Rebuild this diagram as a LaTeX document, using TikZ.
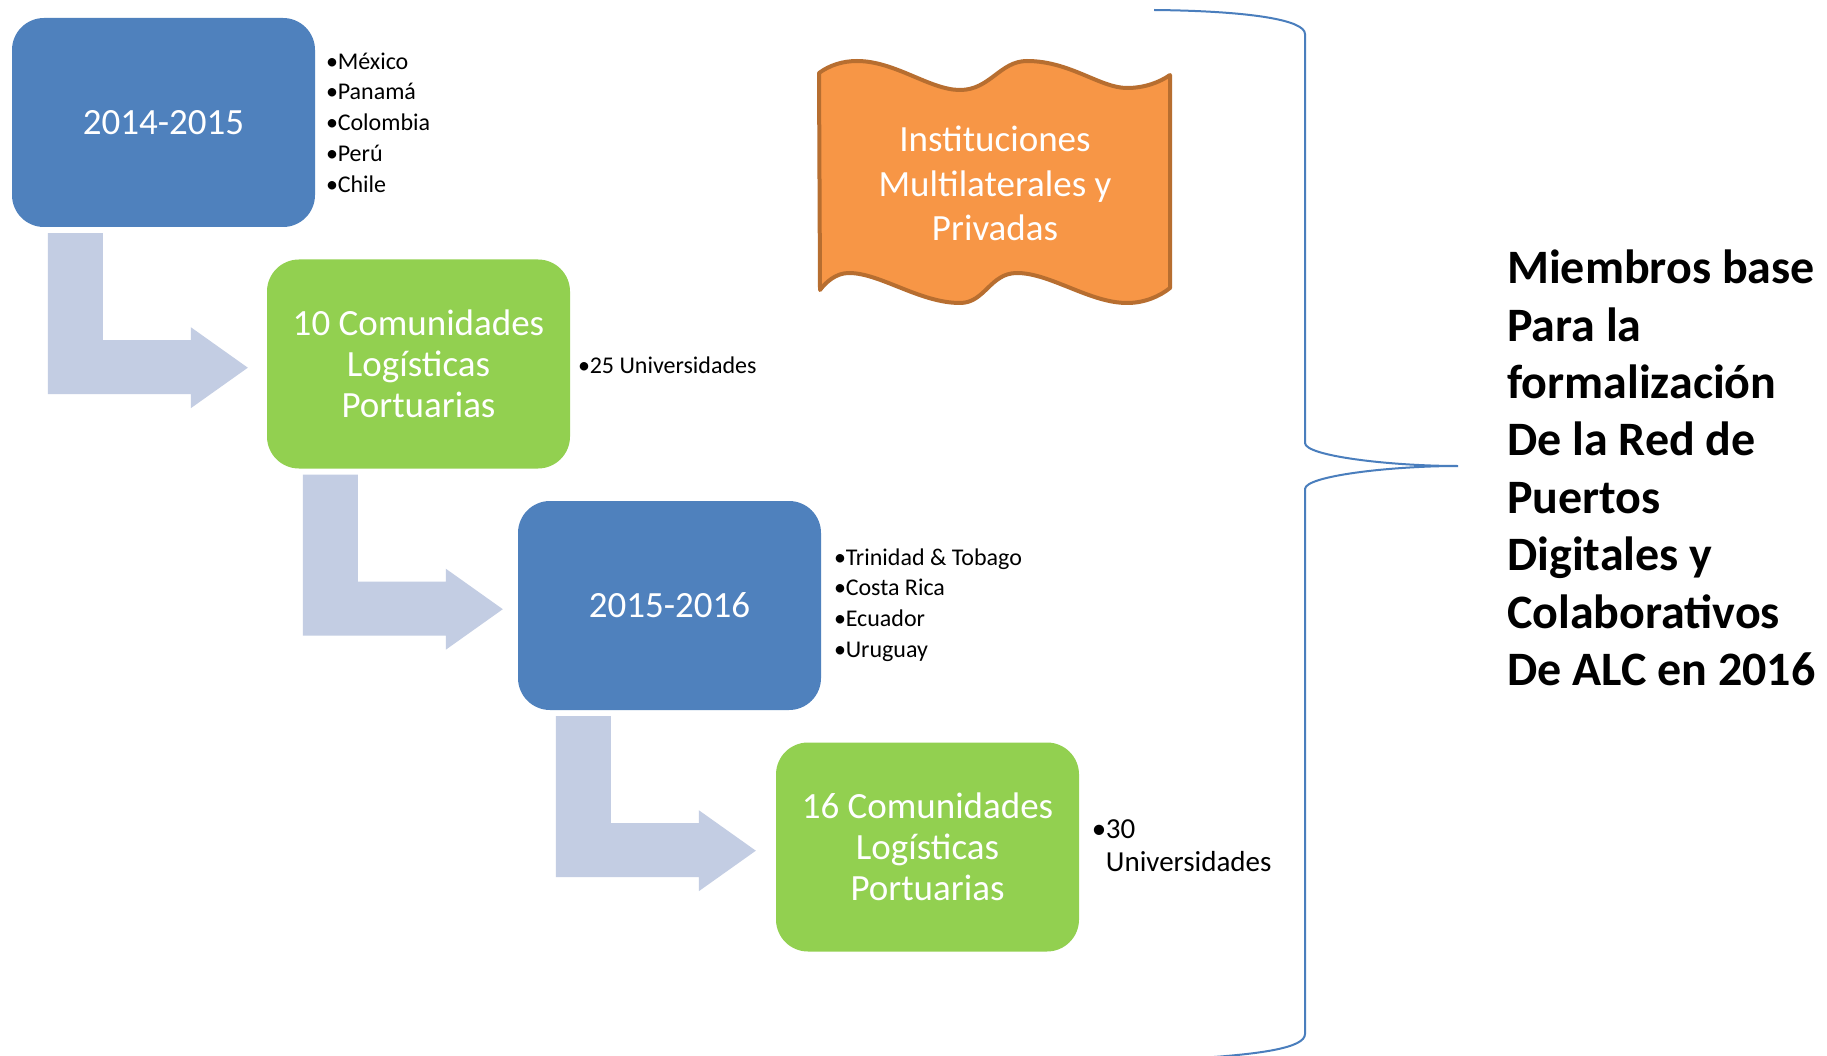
\documentclass[tikz,border=0pt]{standalone}
\usepackage{fontspec}
\setmainfont{Carlito}
\usetikzlibrary{calc}
\definecolor{boxblue}{HTML}{4F81BD}
\definecolor{boxgreen}{HTML}{92D050}
\definecolor{arrowgray}{HTML}{C3CDE3}
\definecolor{wavefill}{HTML}{F79646}
\definecolor{waveline}{HTML}{B76E30}
\definecolor{bracecol}{HTML}{4A7EBD}
\newcommand\bul{\makebox[0.44em][l]{\hspace*{-0.05em}•}}
\newcommand\bentarr[2][0]{%
  \begin{scope}[shift={(#2.south west)}, xshift=#1]
    \fill[bentarrow] (36,6) -- (91,6) -- (91,113) -- (179,113) -- (179,100)
      -- (236,140.5) -- (179,181) -- (179,167) -- (36,167) -- cycle;
  \end{scope}}
\begin{document}
\begin{tikzpicture}[x=1pt,y=-1pt,
  stagebox/.style={rounded corners=32pt, minimum width=303pt, minimum height=209pt,
    inner sep=0pt, text=white, align=center, font=\fontsize{37}{41}\selectfont},
  bluebox/.style={stagebox, fill=boxblue},
  greenbox/.style={stagebox, fill=boxgreen},
  bullets/.style={anchor=west, inner sep=0pt, align=left, font=\fontsize{24}{30.75}\selectfont},
  bentarrow/.style={fill=arrowgray},
  bracestyle/.style={draw=bracecol, line width=2pt},
  wavestyle/.style={fill=wavefill, draw=waveline, line width=4pt, line join=round},
  goaltext/.style={anchor=west, inner sep=0pt, align=left, font=\fontsize{48}{57.4}\selectfont\bfseries}]
\useasboundingbox (0,0) rectangle (1827,1056);
\fill[white] (0,0) rectangle (1827,1056);

% stage boxes
\node[bluebox]  (b1) at (163.5,122.5) {2014-2015};
\node[greenbox] (b2) at (418.5,364) {10 Comunidades\\Logísticas\\Portuarias};
\node[bluebox]  (b3) at (669.5,605.5) {2015-2016};
\node[greenbox] (b4) at (927.5,847) {16 Comunidades\\Logísticas\\Portuarias};

% bent arrows
\bentarr{b1}
\bentarr{b2}
\bentarr[2pt]{b3}

% bullet lists
\node[bullets] (l1) at (327,122.5) {\bul México\\\bul Panamá\\\bul Colombia\\\bul Perú\\\bul Chile};
\node[bullets] (l2) at (579,365) {\bul 25 Universidades};
\node[bullets] (l3) at (835,605) {\bul Trinidad \& Tobago\\\bul Costa Rica\\\bul Ecuador\\\bul Uruguay};
\node[bullets, font=\fontsize{29}{33}\selectfont] (l4) at (1093,846) {\bul 30\\\phantom{\bul}Universidades};

% wave shape
\filldraw[wavestyle] (819,73) .. controls (830,65) and (843,61) .. (857,61)
  .. controls (895,61) and (930,90) .. (960,90)
  .. controls (990,90) and (1000,61) .. (1027,61)
  .. controls (1070,61) and (1100,88) .. (1127,88)
  .. controls (1145,88) and (1160,82) .. (1170,75)
  -- (1170,288)
  .. controls (1160,296) and (1145,303) .. (1127,303)
  .. controls (1090,303) and (1050,273) .. (1017,273)
  .. controls (990,273) and (985,303) .. (960,303)
  .. controls (920,303) and (880,273) .. (849,273)
  .. controls (836,273) and (826,282) .. (820,290) -- cycle;
\node[text=white, align=center, inner sep=0pt, font=\fontsize{37}{44.5}\selectfont] (inst) at (995,183.5)
  {Instituciones\\Multilaterales y\\Privadas};

% brace
\coordinate (bracetip) at (1458,466);
\draw[bracestyle] (1154,10) .. controls (1250,11) and (1305,20) .. (1305,34)
  -- (1305,443) .. controls (1305,456) and (1390,466) .. (bracetip)
  .. controls (1390,466) and (1305,476) .. (1305,489)
  -- (1305,1034) .. controls (1305,1048) and (1260,1054) .. (1200,1058);

% goal text
\node[goaltext] (goal) at (1507,468) {Miembros base\\Para la\\formalización\\De la Red de\\Puertos\\Digitales y\\Colaborativos\\De ALC en 2016};
\end{tikzpicture}
\end{document}
